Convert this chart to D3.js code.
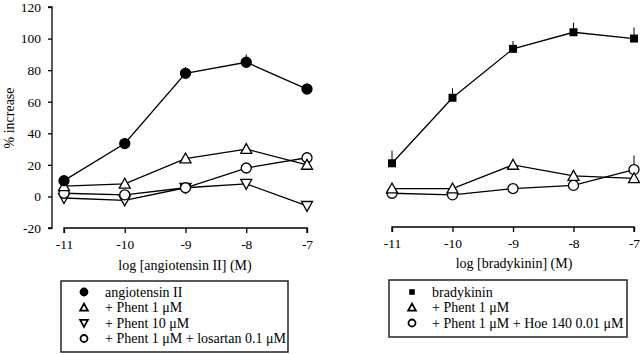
<!DOCTYPE html>
<html><head><meta charset="utf-8">
<script src="https://cdn.jsdelivr.net/npm/d3@7"></script>
<style>body{margin:0;background:#fff}svg{display:block}text{font-family:"Liberation Serif","Times New Roman",serif;fill:#000}</style>
</head><body><svg id="c" width="640" height="354"></svg>
<script>
const xTicks = [-11, -10, -9, -8, -7];
const yTicks = [-20, 0, 20, 40, 60, 80, 100, 120];

// Left panel (angiotensin II)
const angII = [10, 33.5, 78, 85, 68];
const angIIErr = [1, 1, 4, 5, 4];
const angPhent1 = [6.5, 8, 24, 30, 20];
const angPhent10 = [-1, -2.5, 5.5, 8, -6];
const angLosartan = [2, 1, 5.5, 18, 24.5];

// Right panel (bradykinin)
const brady = [21, 62.5, 93.5, 104, 100];
const bradyErr = [8, 6, 5, 6, 7];
const bradyPhent1 = [5, 5, 20, 13, 11.5];
const bradyHoe = [2, 1, 5, 7, 17];
const bradyHoeErr = [0, 0, 3, 0, 9];

const legendLeft = ["angiotensin II", "+ Phent 1 \u03bcM", "+ Phent 10 \u03bcM", "+ Phent 1 \u03bcM + losartan 0.1 \u03bcM"];
const legendRight = ["bradykinin", "+ Phent 1 \u03bcM", "+ Phent 1 \u03bcM + Hoe 140 0.01 \u03bcM"];

const svg = d3.select("#c");
const y = d3.scaleLinear().domain([-20, 120]).range([228, 7]);
const fmt = d => String(d);

function marker(g, type, cx, cy, s, sw) {
  s = s || 1; sw = sw || 1.3;
  if (type === "fcircle" || type === "ocircle") {
    g.append("circle").attr("cx", cx).attr("cy", cy).attr("r", 5 * s)
      .attr("fill", type === "fcircle" ? "#000" : "#fff").attr("stroke", "#000").attr("stroke-width", sw);
  } else if (type === "square") {
    g.append("rect").attr("x", cx - 4 * s).attr("y", cy - 4 * s).attr("width", 8 * s).attr("height", 8 * s).attr("fill", "#000");
  } else if (type === "tup") {
    const h = 5.5 * s;
    g.append("path").attr("d", `M${cx},${cy - h}L${cx + h},${cy + h * 0.8}L${cx - h},${cy + h * 0.8}Z`)
      .attr("fill", "#fff").attr("stroke", "#000").attr("stroke-width", sw);
  } else if (type === "tdown") {
    const h = 5.5 * s;
    g.append("path").attr("d", `M${cx},${cy + h}L${cx + h},${cy - h * 0.8}L${cx - h},${cy - h * 0.8}Z`)
      .attr("fill", "#fff").attr("stroke", "#000").attr("stroke-width", sw);
  }
}

function panel(x0, x1, axisY, series, showY) {
  const x = d3.scaleLinear().domain([-11, -7]).range([x0, x1]);
  const g = svg.append("g");
  const xa = g.append("g").attr("transform", `translate(0,${axisY})`)
    .call(d3.axisBottom(x).tickValues(xTicks).tickSize(5).tickPadding(6).tickFormat(fmt));
  xa.select(".domain").attr("d", `M${x0},5V0H${x1}V5`).attr("stroke-width", 1.3);
  xa.selectAll(".tick line").attr("stroke-width", 1.3);
  xa.selectAll("text").attr("font-size", 13.5).style("font-family", "Liberation Serif");
  if (showY) {
    const ya = g.append("g").attr("transform", `translate(52,0)`)
      .call(d3.axisLeft(y).tickValues(yTicks).tickSize(4).tickPadding(7).tickFormat(fmt));
    ya.select(".domain").attr("d", `M-4,${y(120)}H0V${y(-20)}H-4`).attr("stroke-width", 1.3);
    ya.selectAll(".tick line").attr("stroke-width", 1.3);
    ya.selectAll("text").attr("font-size", 13.5).style("font-family", "Liberation Serif");
  }
  const line = d3.line().x((d, i) => x(xTicks[i])).y(d => y(d));
  series.forEach(s => {
    g.append("path").attr("d", line(s.v)).attr("fill", "none").attr("stroke", "#000").attr("stroke-width", 1.3);
  });
  series.forEach(s => {
    if (s.e) s.v.forEach((d, i) => {
      if (s.e[i] > 0) g.append("line").attr("x1", x(xTicks[i])).attr("x2", x(xTicks[i]))
        .attr("y1", y(d)).attr("y2", y(d + s.e[i])).attr("stroke", "#000").attr("stroke-width", 1);
    });
  });
  series.forEach(s => {
    s.v.forEach((d, i) => marker(g, s.m, x(xTicks[i]), y(d)));
  });
  return x;
}

panel(64, 307, 228, [
  {v: angPhent10, m: "tdown"},
  {v: angLosartan, m: "ocircle"},
  {v: angPhent1, m: "tup"},
  {v: angII, m: "fcircle", e: angIIErr}
], true);

panel(392, 634, 227, [
  {v: bradyHoe, m: "ocircle", e: bradyHoeErr},
  {v: bradyPhent1, m: "tup"},
  {v: brady, m: "square", e: bradyErr}
], false);

svg.append("text").attr("transform", "translate(14,118) rotate(-90)").attr("text-anchor", "middle")
  .attr("font-size", 14).text("% increase");
svg.append("text").attr("x", 185).attr("y", 270).attr("text-anchor", "middle").attr("font-size", 14)
  .text("log [angiotensin II] (M)");
svg.append("text").attr("x", 514).attr("y", 268).attr("text-anchor", "middle").attr("font-size", 14)
  .text("log [bradykinin] (M)");

function legend(x0, y0, w, h, labels, marks, symX, textX, rowY) {
  const g = svg.append("g");
  g.append("rect").attr("x", x0).attr("y", y0).attr("width", w).attr("height", h)
    .attr("fill", "#fff").attr("stroke", "#222").attr("stroke-width", 1.5);
  labels.forEach((t, i) => {
    const yy = rowY[i];
    marker(g, marks[i], symX, yy, 0.7, 1.8);
    g.append("text").attr("x", textX).attr("y", yy + 4.5).attr("font-size", 14).text(t);
  });
}
legend(61, 281, 227, 71, legendLeft, ["fcircle", "tup", "tdown", "ocircle"], 84, 105, [292, 307.5, 323, 338.5]);
legend(389, 280, 238, 57, legendRight, ["square", "tup", "ocircle"], 412, 432, [292, 307.5, 323]);
</script></body></html>
